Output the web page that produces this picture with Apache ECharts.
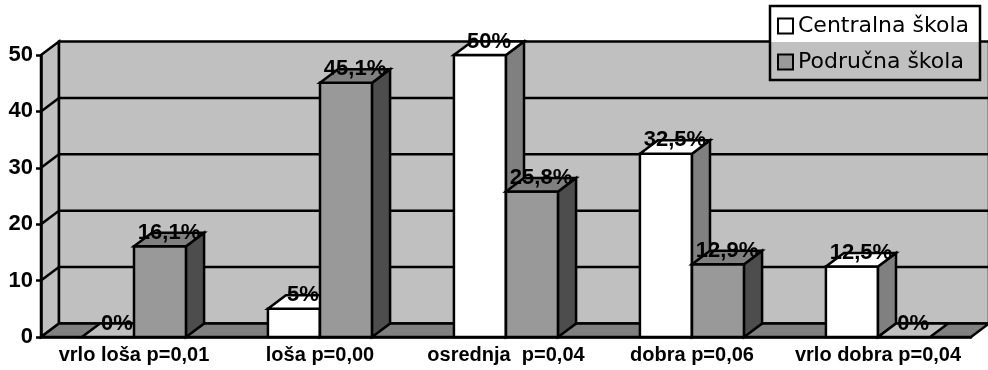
<!DOCTYPE html>
<html>
<head>
<meta charset="utf-8">
<script src="https://cdn.jsdelivr.net/npm/echarts@6/dist/echarts.min.js"></script>
<style>
  html, body { margin: 0; padding: 0; background: #fff; }
  #chart { width: 988px; height: 370px; }
</style>
</head>
<body>
<div id="chart"></div>
<script>
// data
const categories = ['vrlo loša p=0,01', 'loša p=0,00', 'osrednja  p=0,04', 'dobra p=0,06', 'vrlo dobra p=0,04'];
const centralna = [0, 5, 50, 32.5, 12.5];
const podrucna = [16.1, 45.1, 25.8, 12.9, 0];
const yTicks = [0, 10, 20, 30, 40, 50];

// depth of the fake 3d
const DX = 18, DY = -13.5;
const FONT = 'Liberation Sans';
const edge = { stroke: '#000', lineWidth: 2.5 };

// back wall, side wall and floor
function renderWall(params, api) {
  const cs = params.coordSys;
  const x0 = cs.x, x1 = cs.x + cs.width;
  const yb = api.coord([0, yTicks[0]])[1];
  const yt = api.coord([0, yTicks[yTicks.length - 1]])[1];
  const children = [
    { type: 'polygon', shape: { points: [[x0, yt], [x0 + DX, yt + DY], [x0 + DX, yb + DY], [x0, yb]] }, style: Object.assign({ fill: '#c0c0c0' }, edge) },
    { type: 'rect', shape: { x: x0 + DX, y: yt + DY, width: x1 - x0, height: yb - yt }, style: Object.assign({ fill: '#c0c0c0' }, edge) },
    { type: 'polygon', shape: { points: [[x0, yb], [x1, yb], [x1 + DX, yb + DY], [x0 + DX, yb + DY]] }, style: Object.assign({ fill: '#808080' }, edge) }
  ];
  yTicks.slice(1, -1).forEach(function (t) {
    const y = api.coord([0, t])[1];
    children.push({ type: 'line', shape: { x1: x0, y1: y, x2: x0 + DX, y2: y + DY }, style: edge });
    children.push({ type: 'line', shape: { x1: x0 + DX, y1: y + DY, x2: x1 + DX, y2: y + DY }, style: edge });
  });
  return { type: 'group', children: children };
}

// one 3d column: front, top, side + label
function makeBar(slot, front, top, side) {
  return function (params, api) {
    const i = api.value(0), v = api.value(1);
    const band = api.size([1, 0])[0];
    const p0 = api.coord([i, 0]);
    const p1 = api.coord([i, v]);
    const w = band * 0.28;
    const x = p0[0] - band / 2 + band * 0.22 + slot * w;
    const yb = p0[1], yt = p1[1];
    const children = [];
    if (v > 0) {
      children.push({ type: 'rect', shape: { x: x, y: yt, width: w, height: yb - yt }, style: Object.assign({ fill: front }, edge) });
      children.push({ type: 'polygon', shape: { points: [[x + w, yt], [x + w + DX, yt + DY], [x + w + DX, yb + DY], [x + w, yb]] }, style: Object.assign({ fill: side }, edge) });
    }
    children.push({ type: 'polygon', shape: { points: [[x, yt], [x + w, yt], [x + w + DX, yt + DY], [x + DX, yt + DY]] }, style: Object.assign({ fill: v > 0 ? top : '#c0c0c0' }, edge) });
    children.push({
      type: 'text', z2: 100,
      style: {
        x: x + w / 2 + DX / 2, y: yt + DY,
        text: String(v).replace('.', ',') + '%',
        fill: '#000', font: 'bold 22px "' + FONT + '"',
        textAlign: 'center', textVerticalAlign: 'middle'
      }
    });
    return { type: 'group', children: children };
  };
}

const chart = echarts.init(document.getElementById('chart'));
chart.setOption({
  animation: false,
  backgroundColor: '#fff',
  grid: { left: 41, right: 17, top: 55, bottom: 33 },
  legend: {
    orient: 'vertical',
    left: 777, top: 15, padding: 0,
    itemWidth: 15, itemHeight: 15, itemGap: 14,
    z: 20,
    textStyle: { fontFamily: 'DejaVu Sans', fontSize: 22, color: '#000', padding: 0 },
    data: [
      { name: 'Centralna škola', icon: 'rect', itemStyle: { color: '#ffffff', borderColor: '#000', borderWidth: 2 } },
      { name: 'Područna škola', icon: 'rect', itemStyle: { color: '#999999', borderColor: '#000', borderWidth: 2 } }
    ]
  },
  graphic: [
    { type: 'rect', z: 10, shape: { x: 770, y: 6, width: 210, height: 36 }, style: { fill: '#fff' } },
    { type: 'rect', z: 10, shape: { x: 770, y: 42, width: 210, height: 38 }, style: { fill: '#c0c0c0' } },
    { type: 'rect', z: 11, shape: { x: 770, y: 6, width: 210, height: 74 }, style: { fill: 'none', stroke: '#000', lineWidth: 2.5 } }
  ],
  xAxis: {
    type: 'category',
    data: categories,
    z: 5,
    axisLine: { lineStyle: { color: '#000', width: 2.5 } },
    axisTick: { length: 5, lineStyle: { color: '#000', width: 2.5 } },
    axisLabel: { interval: 0, color: '#000', fontFamily: FONT, fontWeight: 'bold', fontSize: 20, margin: 8 }
  },
  yAxis: {
    type: 'value',
    min: 0, max: 50, interval: 10,
    z: 5,
    axisLine: { show: true, lineStyle: { color: '#000', width: 2.5 } },
    axisTick: { show: true, length: 5, lineStyle: { color: '#000', width: 2.5 } },
    axisLabel: { color: '#000', fontFamily: FONT, fontWeight: 'bold', fontSize: 22, margin: 8 },
    splitLine: { show: false }
  },
  series: [
    { type: 'custom', z: 1, silent: true, renderItem: renderWall, data: [[0, 0]] },
    {
      name: 'Centralna škola', type: 'custom', z: 2,
      itemStyle: { color: '#ffffff' },
      renderItem: makeBar(0, '#ffffff', '#ffffff', '#808080'),
      data: centralna.map(function (v, i) { return [i, v]; })
    },
    {
      name: 'Područna škola', type: 'custom', z: 2,
      itemStyle: { color: '#999999' },
      renderItem: makeBar(1, '#999999', '#808080', '#4d4d4d'),
      data: podrucna.map(function (v, i) { return [i, v]; })
    }
  ]
});
</script>
</body>
</html>
